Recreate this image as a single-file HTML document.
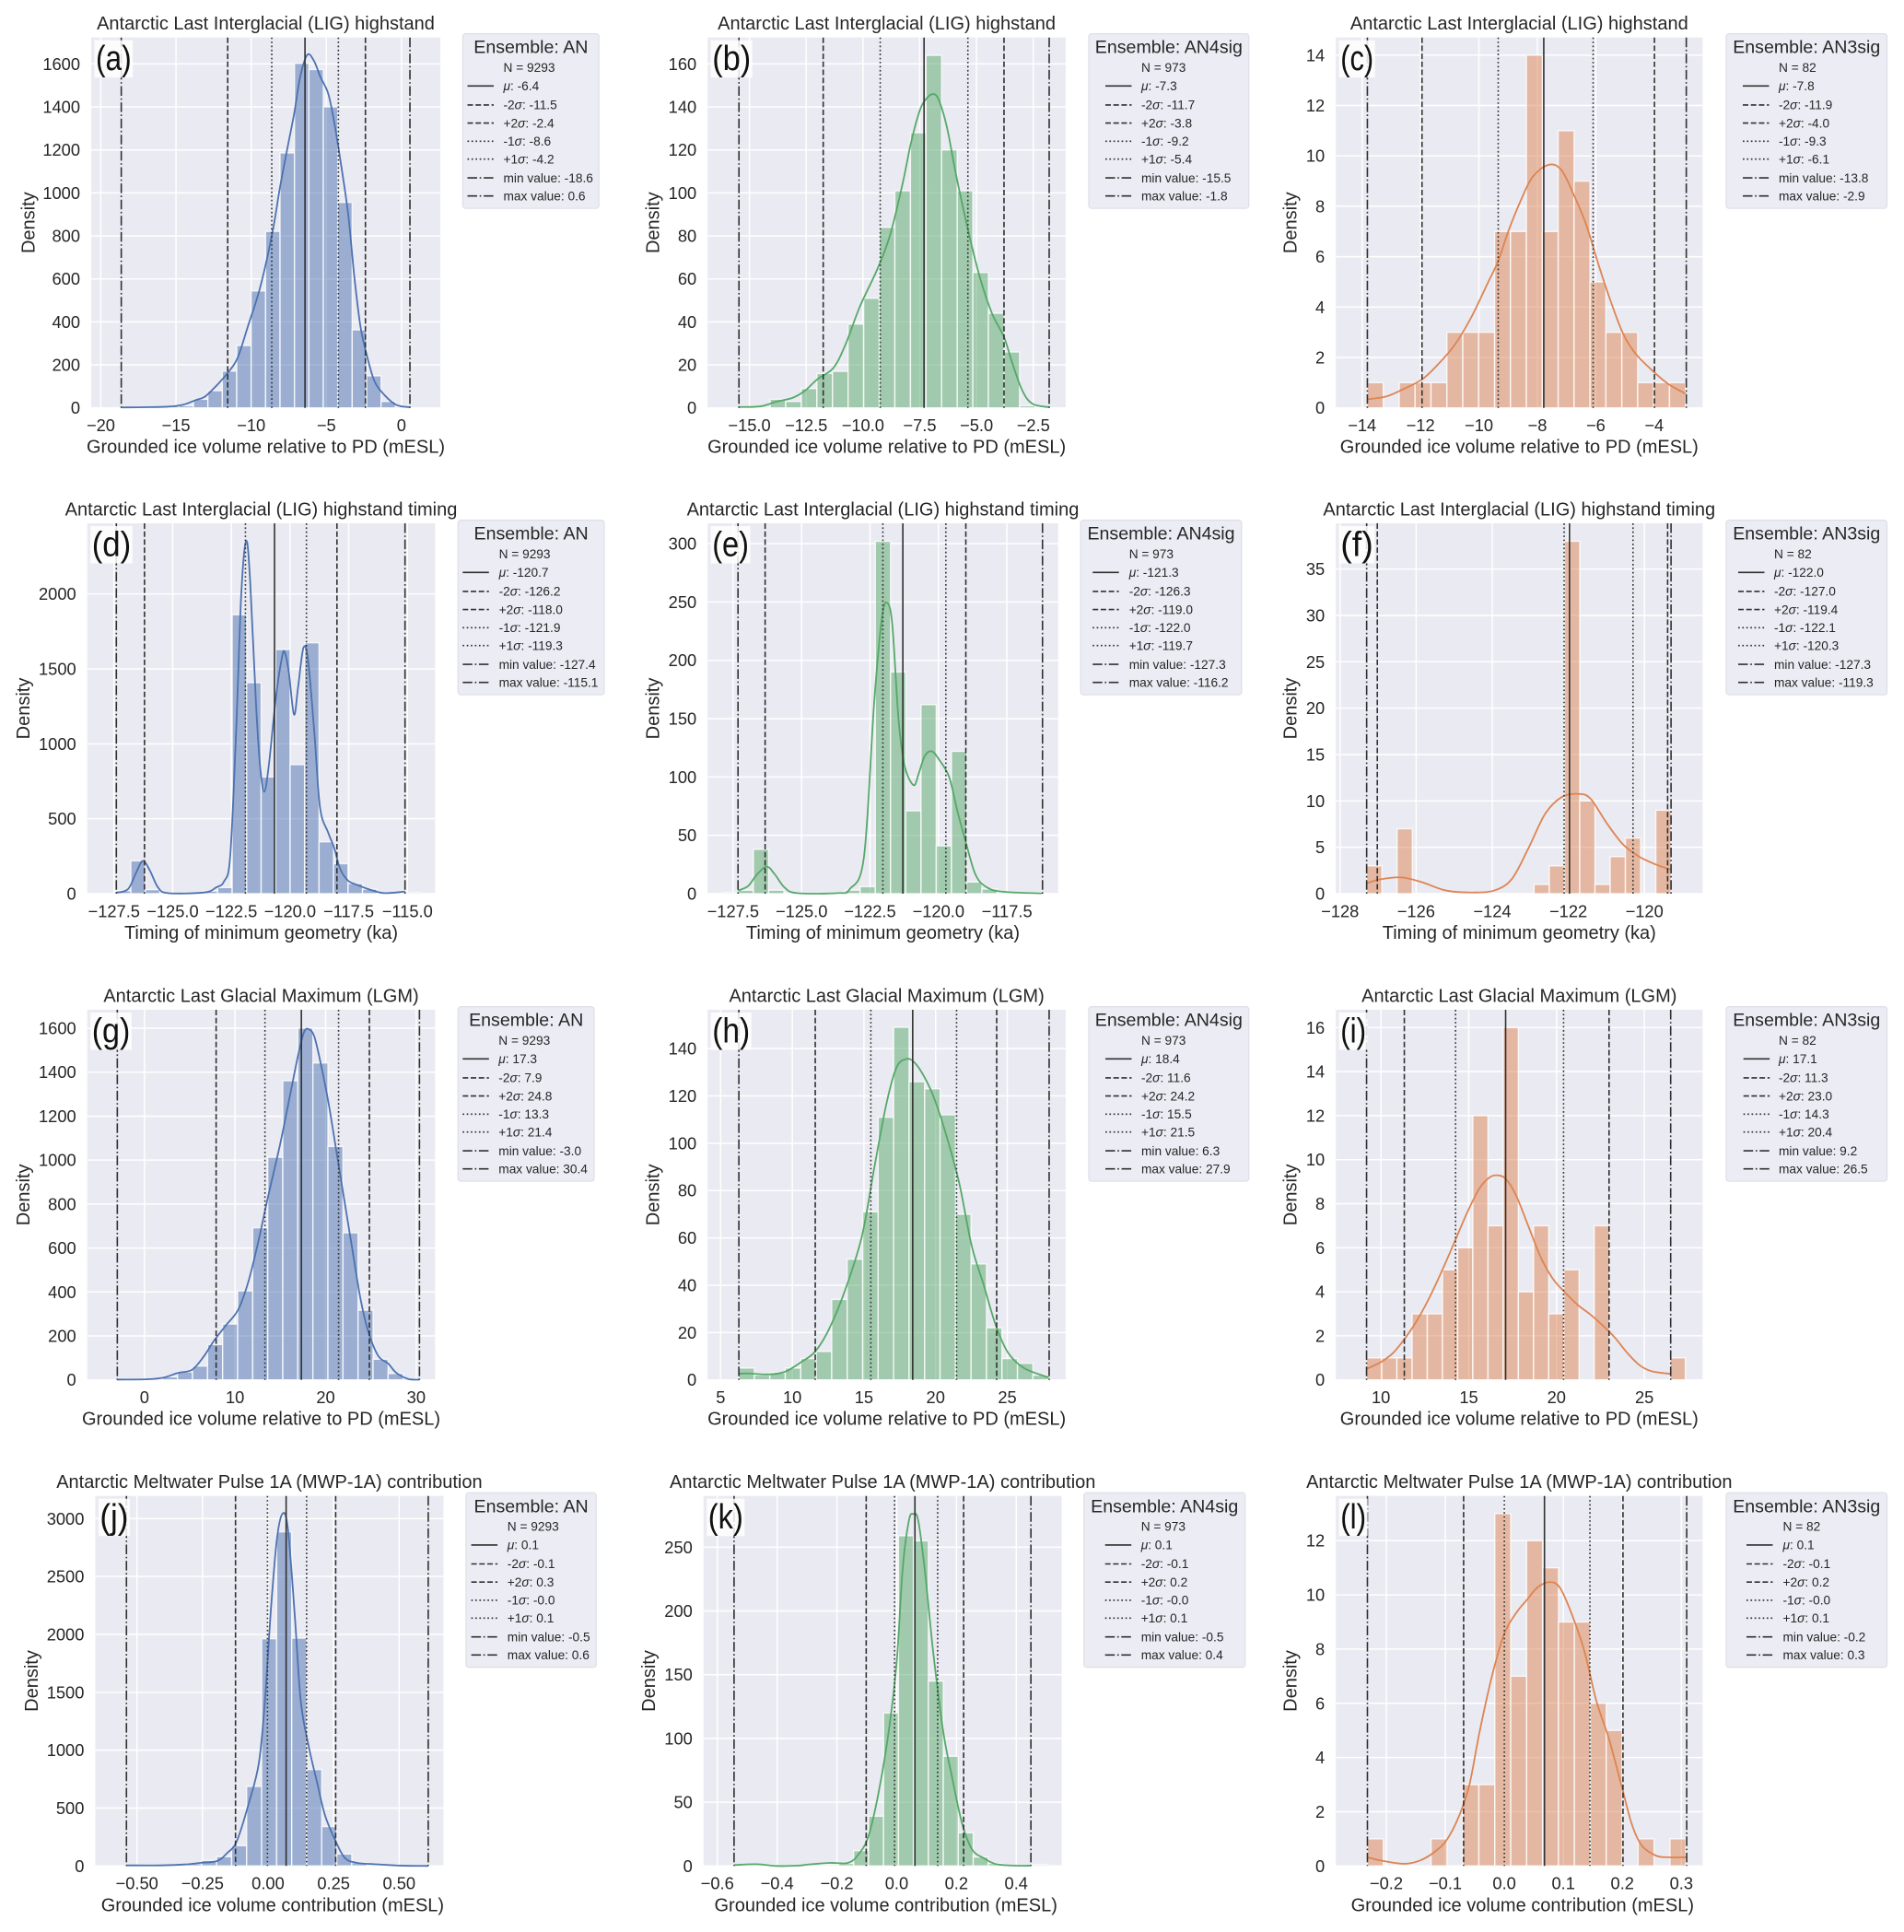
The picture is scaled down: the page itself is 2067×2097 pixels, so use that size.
<!DOCTYPE html>
<html lang="en">
<head>
<meta charset="utf-8">
<title>Antarctic ensemble histograms</title>
<style>
html,body{margin:0;padding:0;background:#fff}
#figure{display:block;width:2067px;height:2097px;font-family:"Liberation Sans",Arial,sans-serif}
text{fill:#262626}
</style>
</head>
<body>
<svg id="figure" width="2067" height="2097" viewBox="0 0 2067 2097" xmlns="http://www.w3.org/2000/svg"></svg>
<script>
/* ---------- DATA: panel a ---------- */
const binA = [-18.64, 0.96];
const countsA = [2,3,2,8,10,40,80,171,290,544,821,1186,1603,1574,1400,956,363,149,30,4];
const kdeXA = [-18.6,-17.1,-15.5,-14.5,-13.7,-13.1,-12.3,-11.5,-10.9,-10.2,-9.4,-8.6,-8.07,-7.54,-7.14,-6.74,-6.26,-5.8,-5.4,-4.87,-4.47,-4.07,-3.54,-3.14,-2.74,-2.34,-1.81,-1.15,-0.35,0.53];
const kdeYA = [2,3,6,15,36,51,104,168,233,383,561,811,1031,1226,1369,1540,1643,1611,1540,1461,1326,1154,897,611,383,254,126,61,14,3];
const statsA = [-6.42,-11.56,-2.4,-8.63,-4.2,-18.64,0.56];
const statLabelsA = ['-6.4','-11.5','-2.4','-8.6','-4.2','-18.6','0.6'];
const xTicksA = [-20,-15,-10,-5,0];
const yTicksA = [0,200,400,600,800,1000,1200,1400,1600];
const xDomainA = [-20.64,2.58];
const yDomainA = [0,1723];
/* ---------- DATA: panel b ---------- */
const binB = [-15.46, 0.6865];
const countsB = [0,0,4,3,9,16,17,39,51,84,101,128,164,120,101,63,44,26,1,0];
const kdeXB = [-15.46,-14.52,-13.8,-13.09,-12.55,-12.01,-11.3,-10.76,-10.14,-9.33,-8.79,-8.26,-7.9,-7.54,-7.27,-6.92,-6.65,-6.29,-5.93,-5.4,-4.86,-4.32,-3.79,-3.43,-2.98,-2.54,-1.82];
const kdeYB = [0.4,0.7,2.9,4.7,8,13.3,18.6,29.7,47,65.4,81,104,122.6,137,143,146,143,130,110,84,61,44,33,21,8,1.9,0.3];
const statsB = [-7.31,-11.75,-3.79,-9.24,-5.38,-15.46,-1.8];
const statLabelsB = ['-7.3','-11.7','-3.8','-9.2','-5.4','-15.5','-1.8'];
const xTicksB = [-15,-12.5,-10,-7.5,-5,-2.5];
const yTicksB = [0,20,40,60,80,100,120,140,160];
const xDomainB = [-16.84,-1.07];
const yDomainB = [0,172.3];
/* ---------- DATA: panel c ---------- */
const binC = [-13.82, 0.5445];
const countsC = [1,0,1,1,1,3,3,3,7,7,14,7,11,9,5,3,3,1,1,1];
const kdeXC = [-13.82,-13.21,-12.65,-11.95,-11.39,-10.83,-10.26,-9.7,-9.34,-9.0,-8.58,-8.16,-7.6,-7.17,-6.75,-6.33,-5.91,-5.49,-5.07,-4.65,-4.08,-3.52,-2.92];
const kdeYC = [0.34,0.44,0.71,1.13,1.74,2.5,3.6,4.95,5.83,6.99,8.2,9.17,9.65,9.43,8.45,7.28,5.7,4.24,2.96,2.17,1.5,0.95,0.56];
const statsC = [-7.78,-11.95,-3.99,-9.34,-6.09,-13.82,-2.9];
const statLabelsC = ['-7.8','-11.9','-4.0','-9.3','-6.1','-13.8','-2.9'];
const xTicksC = [-14,-12,-10,-8,-6,-4];
const yTicksC = [0,2,4,6,8,10,12,14];
const xDomainC = [-14.9,-2.34];
const yDomainC = [0,14.7];
/* ---------- DATA: panel d ---------- */
const binD = [-127.4, 0.617];
const countsD = [20,219,27,3,3,3,18,41,1861,1408,779,1629,861,1674,346,200,68,30,4,3,8];
const kdeXD = [-127.4,-126.9,-126.56,-126.27,-125.97,-125.62,-125.2,-123.66,-123.15,-122.81,-122.55,-122.3,-122.08,-121.87,-121.7,-121.45,-121.28,-121.1,-120.9,-120.6,-120.34,-120.22,-120.05,-119.83,-119.66,-119.43,-119.23,-118.96,-118.72,-118.38,-118.12,-117.86,-117.52,-117.18,-116.67,-115.99,-115.1];
const kdeYD = [6,31,139,219,154,41,4,8,41,82,246,1066,1988,2352,2090,1270,861,680,861,1311,1578,1609,1475,1195,1373,1639,1557,1066,574,410,307,164,86,61,31,4,14];
const statsD = [-120.66,-126.2,-118,-121.9,-119.3,-127.4,-115.1];
const statLabelsD = ['-120.7','-126.2','-118.0','-121.9','-119.3','-127.4','-115.1'];
const xTicksD = [-127.5,-125,-122.5,-120,-117.5,-115];
const yTicksD = [0,500,1000,1500,2000];
const xDomainD = [-128.64,-113.82];
const yDomainD = [0,2471];
/* ---------- DATA: panel e ---------- */
const binE = [-127.87, 0.5564];
const countsE = [1,3,38,3,0,0,0,0,3,6,302,190,71,162,41,122,10,4,1,1,1];
const kdeXE = [-127.32,-126.95,-126.65,-126.28,-125.99,-125.62,-125.17,-123.69,-123.24,-122.72,-122.35,-122.06,-121.86,-121.68,-121.46,-121.24,-120.91,-120.72,-120.5,-120.24,-119.98,-119.61,-119.31,-119.01,-118.64,-118.2,-117.6,-116.22];
const kdeYE = [2.6,6.6,15.8,23.2,17,5.3,0.5,0.5,3.9,31.6,163,237,249,229,150,110,93,103,118,122,115,100,71,45,16,5,1.6,0.3];
const statsE = [-121.3,-126.33,-119,-122.03,-119.73,-127.32,-116.2];
const statLabelsE = ['-121.3','-126.3','-119.0','-122.0','-119.7','-127.3','-116.2'];
const xTicksE = [-127.5,-125,-122.5,-120,-117.5];
const yTicksE = [0,50,100,150,200,250,300];
const xDomainE = [-128.43,-115.63];
const yDomainE = [0,317.4];
/* ---------- DATA: panel f ---------- */
const binF = [-127.3, 0.4];
const countsF = [3,0,7,0,0,0,0,0,0,0,0,1,3,38,10,1,4,6,0,9];
const kdeXF = [-127.3,-126.92,-126.38,-125.84,-125.2,-124.44,-123.9,-123.47,-123.04,-122.61,-122.18,-121.75,-121.42,-120.99,-120.56,-120.13,-119.7,-119.32];
const kdeYF = [1.13,1.56,1.75,1.23,0.33,0.13,0.4,1.66,4.97,8.6,10.4,10.76,10.26,7.6,5.3,3.97,3.15,2.6];
const statsF = [-121.97,-127.02,-119.39,-122.11,-120.3,-127.3,-119.3];
const statLabelsF = ['-122.0','-127.0','-119.4','-122.1','-120.3','-127.3','-119.3'];
const xTicksF = [-128,-126,-124,-122,-120];
const yTicksF = [0,5,10,15,20,25,30,35];
const xDomainF = [-128.11,-118.47];
const yDomainF = [0,39.93];
/* ---------- DATA: panel g ---------- */
const binG = [-3.0, 1.661];
const countsG = [1,1,3,14,36,63,161,254,405,692,1013,1361,1600,1442,1062,669,317,94,29,3];
const kdeXG = [-3,0.4,2.17,3.71,5.26,6.59,7.69,9.01,10.34,11.45,12.55,13.65,14.98,16.08,16.97,17.63,18.16,18.74,19.4,20.28,21.17,22.05,22.93,23.82,24.7,25.81,26.91,27.8,29.12,30.36];
const kdeYG = [1,3,11,32,46,109,179,249,319,444,626,835,1073,1297,1479,1584,1595,1563,1451,1269,1045,821,598,375,221,109,74,32,4,1];
const statsG = [17.32,7.91,24.83,13.3,21.43,-3,30.36];
const statLabelsG = ['17.3','7.9','24.8','13.3','21.4','-3.0','30.4'];
const xTicksG = [0,10,20,30];
const yTicksG = [0,200,400,600,800,1000,1200,1400,1600];
const xDomainG = [-6.32,32.08];
const yDomainG = [0,1684];
/* ---------- DATA: panel h ---------- */
const binH = [6.27, 1.08];
const countsH = [5,2,3,5,9,12,34,51,71,111,149,126,123,112,70,49,22,9,7,2];
const kdeXH = [6.27,6.93,8.34,9.48,10.61,11.6,12.59,13.73,14.86,15.71,16.56,17.27,17.97,18.54,19.25,19.96,20.81,21.66,22.51,23.36,24.2,25.06,26.19,27.89];
const kdeYH = [2.6,2.7,2.3,3.4,7.5,12,21.8,38.7,60.8,89.3,116.5,132,135.6,134,127.6,118,102,82.8,56.8,40,23,11.4,4.9,1];
const statsH = [18.4,11.6,24.26,15.48,21.46,6.27,27.92];
const statLabelsH = ['18.4','11.6','24.2','15.5','21.5','6.3','27.9'];
const xTicksH = [5,10,15,20,25];
const yTicksH = [0,20,40,60,80,100,120,140];
const xDomainH = [4.09,29.08];
const yDomainH = [0,156.4];
/* ---------- DATA: panel i ---------- */
const binI = [9.18, 0.8645];
const countsI = [1,1,1,3,3,5,6,12,7,16,4,7,3,5,0,7,0,0,0,0,1];
const kdeXI = [9.18,10,10.7,11.4,12.1,12.8,13.5,14.21,14.91,15.61,16.19,16.66,17.13,17.71,18.41,19.11,19.81,20.51,21.21,21.92,22.62,23.32,24.02,24.72,25.42,26.52];
const kdeYI = [0.5,0.81,1.23,1.92,2.76,3.8,5,6.3,7.6,8.7,9.2,9.29,9.11,8.35,6.95,5.55,4.57,3.95,3.4,2.97,2.48,1.92,1.23,0.67,0.39,0.27];
const statsI = [17.1,11.33,22.99,14.25,20.4,9.18,26.5];
const statLabelsI = ['17.1','11.3','23.0','14.3','20.4','9.2','26.5'];
const xTicksI = [10,15,20,25];
const yTicksI = [0,2,4,6,8,10,12,14,16];
const xDomainI = [7.43,28.32];
const yDomainI = [0,16.81];
/* ---------- DATA: panel j ---------- */
const binJ = [-0.54, 0.0573];
const countsJ = [5,3,5,10,20,48,80,175,687,1963,2886,1968,833,340,103,29,8,5,2,1];
const kdeXJ = [-0.54,-0.409,-0.318,-0.256,-0.195,-0.157,-0.119,-0.073,-0.035,-0.012,0.011,0.034,0.056,0.076,0.102,0.125,0.156,0.186,0.217,0.255,0.293,0.339,0.4,0.507,0.611];
const kdeYJ = [5,5,13,27,42,109,215,544,889,1419,2215,2825,3045,2907,2164,1420,1024,732,440,228,69,27,16,3,0];
const statsJ = [0.069,-0.124,0.258,-0.002,0.147,-0.54,0.611];
const statLabelsJ = ['0.1','-0.1','0.3','-0.0','0.1','-0.5','0.6'];
const xTicksJ = [-0.5,-0.25,0,0.25,0.5];
const yTicksJ = [0,500,1000,1500,2000,2500,3000];
const xDomainJ = [-0.659,0.669];
const yDomainJ = [0,3196];
/* ---------- DATA: panel k ---------- */
const binK = [-0.544, 0.05];
const countsK = [1,1,1,0,0,1,1,2,12,39,120,259,255,145,86,26,7,2,0,0,1];
const kdeXK = [-0.544,-0.469,-0.401,-0.333,-0.292,-0.224,-0.163,-0.129,-0.095,-0.061,-0.027,0,0.02,0.041,0.056,0.072,0.095,0.122,0.156,0.184,0.218,0.252,0.292,0.333,0.401,0.449];
const kdeYK = [0.7,1.4,0,0.2,1.2,2.4,2.4,8.7,23,57,105,160,233,271,276,271,230,168,105,71,34,13,6,1.4,0.2,0.2];
const statsK = [0.061,-0.102,0.224,-0.007,0.137,-0.544,0.449];
const statLabelsK = ['0.1','-0.1','0.2','-0.0','0.1','-0.5','0.4'];
const xTicksK = [-0.6,-0.4,-0.2,0,0.2,0.4];
const yTicksK = [0,50,100,150,200,250];
const xDomainK = [-0.646,0.552];
const yDomainK = [0,290.2];
/* ---------- DATA: panel l ---------- */
const binL = [-0.232, 0.02698];
const countsL = [1,0,0,0,1,0,3,3,13,7,12,11,9,9,6,5,0,1,0,1];
const kdeXL = [-0.232,-0.209,-0.17,-0.143,-0.118,-0.097,-0.076,-0.059,-0.042,-0.021,0,0.021,0.038,0.056,0.076,0.094,0.115,0.136,0.156,0.177,0.198,0.216,0.233,0.257,0.278,0.308];
const kdeYL = [0.32,0.2,0.08,0.2,0.52,0.98,1.88,3.01,4.94,7,8.57,9.36,9.81,10.27,10.47,10.27,9.25,7.89,6.08,4.71,3.01,1.54,0.75,0.38,0.32,0.32];
const statsL = [0.068,-0.069,0.201,0,0.145,-0.232,0.309];
const statLabelsL = ['0.1','-0.1','0.2','-0.0','0.1','-0.2','0.3'];
const xTicksL = [-0.2,-0.1,0,0.1,0.2,0.3];
const yTicksL = [0,2,4,6,8,10,12];
const xDomainL = [-0.2855,0.336];
const yDomainL = [0,13.65];

const TITLE_LIG = 'Antarctic Last Interglacial (LIG) highstand';
const TITLE_TIMING = 'Antarctic Last Interglacial (LIG) highstand timing';
const TITLE_LGM = 'Antarctic Last Glacial Maximum (LGM)';
const TITLE_MWP = 'Antarctic Meltwater Pulse 1A (MWP-1A) contribution';
const XLABEL_REL = 'Grounded ice volume relative to PD (mESL)';
const XLABEL_TIME = 'Timing of minimum geometry (ka)';
const XLABEL_CON = 'Grounded ice volume contribution (mESL)';
const BLUE = '#4c72b0', GREEN = '#55a868', ORANGE = '#dd8452';

const panels = [
 {id:'a',color:BLUE,  title:TITLE_LIG,   xlabel:XLABEL_REL, ens:'AN',    n:'9293',bin:binA,counts:countsA,kdeX:kdeXA,kdeY:kdeYA,stats:statsA,statLabels:statLabelsA,xTicks:xTicksA,yTicks:yTicksA,xDomain:xDomainA,yDomain:yDomainA,xDec:0,
  L:99,R:478,T:40.7,B:442.7,yl:30.4,leg:[502.5,650.2,36.7],hx:5,tx:44,lw:41.7,xs:0},
 {id:'b',color:GREEN, title:TITLE_LIG,   xlabel:XLABEL_REL, ens:'AN4sig',n:'973', bin:binB,counts:countsB,kdeX:kdeXB,kdeY:kdeYB,stats:statsB,statLabels:statLabelsB,xTicks:xTicksB,yTicks:yTicksB,xDomain:xDomainB,yDomain:yDomainB,xDec:1,
  L:768.2,R:1157,T:40.7,B:442.7,yl:708.7,leg:[1182,1355.7,36.7],hx:18,tx:57,lw:45,xs:0},
 {id:'c',color:ORANGE,title:TITLE_LIG,   xlabel:XLABEL_REL, ens:'AN3sig',n:'82',  bin:binC,counts:countsC,kdeX:kdeXC,kdeY:kdeYC,stats:statsC,statLabels:statLabelsC,xTicks:xTicksC,yTicks:yTicksC,xDomain:xDomainC,yDomain:yDomainC,xDec:0,
  L:1450.2,R:1848.4,T:40.7,B:442.7,yl:1400.3,leg:[1874,2048.5,36.7],hx:18,tx:57,lw:39,xs:0},
 {id:'d',color:BLUE,  title:TITLE_TIMING,xlabel:XLABEL_TIME,ens:'AN',    n:'9293',bin:binD,counts:countsD,kdeX:kdeXD,kdeY:kdeYD,stats:statsD,statLabels:statLabelsD,xTicks:xTicksD,yTicks:yTicksD,xDomain:xDomainD,yDomain:yDomainD,xDec:1,
  L:94.7,R:472.3,T:568,B:970,yl:24.8,leg:[497.3,655.9,564.7],hx:5,tx:44.3,lw:45.6,xs:0},
 {id:'e',color:GREEN, title:TITLE_TIMING,xlabel:XLABEL_TIME,ens:'AN4sig',n:'973', bin:binE,counts:countsE,kdeX:kdeXE,kdeY:kdeYE,stats:statsE,statLabels:statLabelsE,xTicks:xTicksE,yTicks:yTicksE,xDomain:xDomainE,yDomain:yDomainE,xDec:1,
  L:768.2,R:1148.7,T:568,B:970,yl:708.7,leg:[1173.2,1347.8,564.7],hx:13,tx:52.5,lw:42.8,xs:0},
 {id:'f',color:ORANGE,title:TITLE_TIMING,xlabel:XLABEL_TIME,ens:'AN3sig',n:'82',  bin:binF,counts:countsF,kdeX:kdeXF,kdeY:kdeYF,stats:statsF,statLabels:statLabelsF,xTicks:xTicksF,yTicks:yTicksF,xDomain:xDomainF,yDomain:yDomainF,xDec:0,
  L:1450.2,R:1848.4,T:568,B:970,yl:1400.3,leg:[1874,2048.5,564.7],hx:13,tx:52,lw:38.7,xs:0},
 {id:'g',color:BLUE,  title:TITLE_LGM,   xlabel:XLABEL_REL, ens:'AN',    n:'9293',bin:binG,counts:countsG,kdeX:kdeXG,kdeY:kdeYG,stats:statsG,statLabels:statLabelsG,xTicks:xTicksG,yTicks:yTicksG,xDomain:xDomainG,yDomain:yDomainG,xDec:0,
  L:94.7,R:472.3,T:1096,B:1497.7,yl:24.8,leg:[497.3,645,1092.7],hx:5,tx:44,lw:44.7,xs:0},
 {id:'h',color:GREEN, title:TITLE_LGM,   xlabel:XLABEL_REL, ens:'AN4sig',n:'973', bin:binH,counts:countsH,kdeX:kdeXH,kdeY:kdeYH,stats:statsH,statLabels:statLabelsH,xTicks:xTicksH,yTicks:yTicksH,xDomain:xDomainH,yDomain:yDomainH,xDec:0,
  L:768.2,R:1157,T:1096,B:1497.7,yl:708.7,leg:[1182,1355.7,1092.7],hx:18,tx:57,lw:44,xs:0},
 {id:'i',color:ORANGE,title:TITLE_LGM,   xlabel:XLABEL_REL, ens:'AN3sig',n:'82',  bin:binI,counts:countsI,kdeX:kdeXI,kdeY:kdeYI,stats:statsI,statLabels:statLabelsI,xTicks:xTicksI,yTicks:yTicksI,xDomain:xDomainI,yDomain:yDomainI,xDec:0,
  L:1450.2,R:1848.4,T:1096,B:1497.7,yl:1400.3,leg:[1874,2048.5,1092.7],hx:18.7,tx:57,lw:31,xs:0},
 {id:'j',color:BLUE,  title:TITLE_MWP,   xlabel:XLABEL_CON, ens:'AN',    n:'9293',bin:binJ,counts:countsJ,kdeX:kdeXJ,kdeY:kdeYJ,stats:statsJ,statLabels:statLabelsJ,xTicks:xTicksJ,yTicks:yTicksJ,xDomain:xDomainJ,yDomain:yDomainJ,xDec:2,
  L:103.4,R:481.4,T:1623.7,B:2025.3,yl:33.9,leg:[506,647.2,1620.3],hx:5.6,tx:44.8,lw:34,xs:3.5},
 {id:'k',color:GREEN, title:TITLE_MWP,   xlabel:XLABEL_CON, ens:'AN4sig',n:'973', bin:binK,counts:countsK,kdeX:kdeXK,kdeY:kdeYK,stats:statsK,statLabels:statLabelsK,xTicks:xTicksK,yTicks:yTicksK,xDomain:xDomainK,yDomain:yDomainK,xDec:1,
  L:763.8,R:1152.6,T:1623.7,B:2025.3,yl:704.2,leg:[1176.7,1351.7,1620.3],hx:23,tx:62,lw:41,xs:3.5},
 {id:'l',color:ORANGE,title:TITLE_MWP,   xlabel:XLABEL_CON, ens:'AN3sig',n:'82',  bin:binL,counts:countsL,kdeX:kdeXL,kdeY:kdeYL,stats:statsL,statLabels:statLabelsL,xTicks:xTicksL,yTicks:yTicksL,xDomain:xDomainL,yDomain:yDomainL,xDec:1,
  L:1450.2,R:1848.4,T:1623.7,B:2025.3,yl:1400.3,leg:[1874,2048.5,1620.3],hx:22,tx:61.5,lw:31,xs:3.5}
];

const svgNS = document.getElementById('figure').namespaceURI;
const root = document.getElementById('figure');
const LINE = '#303030';
const DASHES = [null,'6,2.7','6,2.7','1.7,2.7','1.7,2.7','10.5,2.7,1.7,2.7','10.5,2.7,1.7,2.7'];
const LEG_PREFIX = ['','-2','+2','-1','+1','min value: ','max value: '];
const LEG_SYMBOL = ['\u03bc','\u03c3','\u03c3','\u03c3','\u03c3','',''];
const LEG_ROWS = [56.6,77.2,96.9,116.6,136,156.4,176];

function make(tag, attrs, parent){
  const e = document.createElementNS(svgNS, tag);
  for (const k in attrs) e.setAttribute(k, attrs[k]);
  parent.appendChild(e);
  return e;
}
function axisX(p){ return v => p.L + (v - p.xDomain[0]) / (p.xDomain[1] - p.xDomain[0]) * (p.R - p.L); }
function axisY(p){ return v => p.B - (v - p.yDomain[0]) / (p.yDomain[1] - p.yDomain[0]) * (p.B - p.T); }
function tickText(v, dec){ return v.toFixed(dec).replace('-', '\u2212'); }
function smoothPath(xs, ys){
  let d = 'M' + xs[0].toFixed(2) + ' ' + ys[0].toFixed(2);
  for (let i = 0; i < xs.length - 1; i++){
    const a = Math.max(i - 1, 0), b = Math.min(i + 2, xs.length - 1);
    const c1x = xs[i] + (xs[i+1] - xs[a]) / 6, c1y = ys[i] + (ys[i+1] - ys[a]) / 6;
    const c2x = xs[i+1] - (xs[b] - xs[i]) / 6, c2y = ys[i+1] - (ys[b] - ys[i]) / 6;
    d += 'C' + c1x.toFixed(2) + ' ' + c1y.toFixed(2) + ' ' + c2x.toFixed(2) + ' ' + c2y.toFixed(2) + ' ' + xs[i+1].toFixed(2) + ' ' + ys[i+1].toFixed(2);
  }
  return d;
}

panels.forEach(function(p){
  const x = axisX(p), y = axisY(p);
  const g = make('g', {}, root);
  
  

  const bg = make('rect', {x:p.L, y:p.T, width:p.R-p.L, height:p.B-p.T, fill:'#eaeaf2'}, g);
  
  

  p.xTicks.forEach(function(v){
    const gl = make('line', {x1:x(v), x2:x(v), y1:p.T, y2:p.B, stroke:'#fff', 'stroke-width':1.5}, g);
    
    
    const t = make('text', {x:x(v), y:p.B+25.4, 'text-anchor':'middle', 'font-size':18.3}, g);
    
    
    t.textContent = tickText(v, p.xDec);
  });
  p.yTicks.forEach(function(v){
    const gl = make('line', {x1:p.L, x2:p.R, y1:y(v), y2:y(v), stroke:'#fff', 'stroke-width':1.5}, g);
    
    
    const t = make('text', {x:p.L-12, y:y(v)+6.5, 'text-anchor':'end', 'font-size':18.3}, g);
    
    
    t.textContent = tickText(v, 0);
  });

  p.counts.forEach(function(c, k){
    if (c <= 0) return;
    const x0 = x(p.bin[0] + k * p.bin[1]), x1 = x(p.bin[0] + (k + 1) * p.bin[1]);
    const bar = make('rect', {x:x0, y:y(c), width:x1-x0, height:y(0)-y(c), fill:p.color, 'fill-opacity':0.5, stroke:'#fff', 'stroke-opacity':0.8, 'stroke-width':1.4}, g);
    
    
  });

  const kde = make('path', {d:smoothPath(p.kdeX.map(x), p.kdeY.map(y)), fill:'none', stroke:p.color, 'stroke-width':1.8}, g);
  
  

  p.stats.forEach(function(v, i){
    const attrs = {x1:x(v), x2:x(v), y1:p.T, y2:p.B, stroke:LINE, 'stroke-width':1.6};
    if (DASHES[i]) attrs['stroke-dasharray'] = DASHES[i];
    const ln = make('line', attrs, g);
    
    
  });

  const title = make('text', {x:(p.L+p.R)/2, y:p.T-8.5, 'text-anchor':'middle', 'font-size':20}, g);
  
  
  title.textContent = p.title;

  const xl = make('text', {x:(p.L+p.R)/2+p.xs, y:p.B+49, 'text-anchor':'middle', 'font-size':20}, g);
  
  
  xl.textContent = p.xlabel;

  const ym = (p.T+p.B)/2;
  const yl = make('text', {x:p.yl, y:ym, 'text-anchor':'middle', 'font-size':20, transform:'rotate(-90 '+p.yl+' '+ym+') translate(0 7)'}, g);
  
  
  yl.textContent = 'Density';

  const lb = make('rect', {x:p.L+3.5, y:p.T+3, width:p.lw, height:40.5, fill:'#fff', 'fill-opacity':0.85}, g);
  
  
  const lt = make('text', {x:p.L+3.5+p.lw/2, y:p.T+35.5, 'text-anchor':'middle', 'font-size':38, textLength:p.lw-3, lengthAdjust:'spacingAndGlyphs'}, g);
  
  
  lt.style.fill = '#111';
  lt.textContent = '(' + p.id + ')';

  /* legend */
  const lg = make('g', {}, g);
  
  
  const lx = p.leg[0], lr = p.leg[1], ly = p.leg[2];
  const box = make('rect', {x:lx, y:ly, width:lr-lx, height:189.4, rx:3, fill:'#ecedf4', stroke:'#dfdfe9', 'stroke-width':1.3}, lg);
  
  
  const lgt = make('text', {x:(lx+lr)/2, y:ly+21, 'text-anchor':'middle', 'font-size':19.6}, lg);
  
  
  lgt.textContent = 'Ensemble: ' + p.ens;
  const nt = make('text', {x:lx+p.tx, y:ly+41.2, 'font-size':13.7}, lg);
  
  
  nt.textContent = 'N = ' + p.n;

  p.statLabels.forEach(function(label, i){
    const ry = ly + LEG_ROWS[i];
    const attrs = {x1:lx+p.hx, x2:lx+p.hx+28.5, y1:ry, y2:ry, stroke:LINE, 'stroke-width':1.6};
    if (DASHES[i]) attrs['stroke-dasharray'] = DASHES[i];
    const h = make('line', attrs, lg);
    
    
    const t = make('text', {x:lx+p.tx, y:ry+4.7, 'font-size':13.7}, lg);
    
    
    if (LEG_SYMBOL[i]){
      t.appendChild(document.createTextNode(LEG_PREFIX[i]));
      const s = make('tspan', {'font-style':'italic'}, t);
      s.textContent = LEG_SYMBOL[i];
      t.appendChild(document.createTextNode(': ' + label));
    } else {
      t.textContent = LEG_PREFIX[i] + label;
    }
  });
});
</script>
</body>
</html>
